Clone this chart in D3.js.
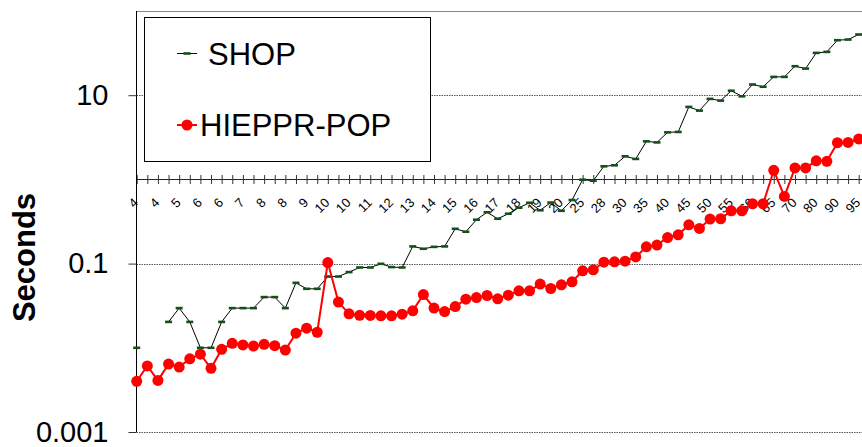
<!DOCTYPE html>
<html>
<head>
<meta charset="utf-8">
<script src="https://cdn.jsdelivr.net/npm/d3@7"></script>
<style>
  body { margin: 0; background: #fff; }
  svg { display: block; font-family: "Liberation Sans", Arial, sans-serif; }
</style>
</head>
<body>
<svg id="chart" width="862" height="447"></svg>
<script>
// Category labels (every second category carries a label on the axis)
const tickLabels = ["4","4","5","6","6","7","8","8","9","10","10","11","12","13","14","15","16","17","18","19","20","25","28","30","35","40","45","50","55","60","65","70","80","90","95"];

// Run times in seconds, one value per category (null = no result)
const shopSeconds = [0.0100, null, null, 0.0203, 0.0296, 0.0203, 0.0100, 0.0100, 0.0203, 0.0296,
  0.0296, 0.0296, 0.0400, 0.0400, 0.0296, 0.0591, 0.0502, 0.0502, 0.0702, 0.0702,
  0.0793, 0.0899, 0.0899, 0.0994, 0.0909, 0.0899, 0.160, 0.150, 0.158, 0.160,
  0.259, 0.239, 0.332, 0.407, 0.341, 0.391, 0.461, 0.528, 0.430, 0.531,
  0.424, 0.569, 0.992, 0.965, 1.43, 1.47, 1.88, 1.75, 2.83, 2.75,
  3.62, 3.66, 7.26, 6.56, 9.04, 8.63, 11.3, 9.70, 13.4, 12.6,
  16.5, 16.5, 22.1, 20.7, 31.8, 32.7, 45.0, 45.8, 52.6];

const hiepprSeconds = [0.0040, 0.0061, 0.0041, 0.0064, 0.0059, 0.0074, 0.0084, 0.0057, 0.0096, 0.0113,
  0.0108, 0.0105, 0.0110, 0.0106, 0.0094, 0.0149, 0.0171, 0.0153, 0.103, 0.0349,
  0.0253, 0.0243, 0.0242, 0.0240, 0.0240, 0.0251, 0.0275, 0.0429, 0.0296, 0.0269,
  0.0309, 0.0378, 0.0395, 0.0418, 0.0382, 0.0422, 0.0475, 0.0475, 0.0571, 0.0506,
  0.0560, 0.0608, 0.0821, 0.0844, 0.104, 0.105, 0.107, 0.120, 0.158, 0.166,
  0.204, 0.220, 0.289, 0.262, 0.338, 0.341, 0.424, 0.424, 0.514, 0.514,
  1.28, 0.628, 1.37, 1.37, 1.66, 1.64, 2.73, 2.75, 3.02];

const yTickValues = [0.001, 0.1, 10];
const yTickLabels = ["0.001", "0.1", "10"];
const seriesNames = ["SHOP", "HIEPPR-POP"];
const yTitle = "Seconds";

const svg = d3.select("#chart");
const W = 862, H = 447;
svg.append("rect").attr("width", W).attr("height", H).attr("fill", "#fff");

const plot = { left: 136.5, top: 11, right: 862, bottom: 432 };
const nCat = shopSeconds.length;

const x = d3.scalePoint()
  .domain(d3.range(nCat))
  .range([136.7, 858.7]);

const y = d3.scaleLog()
  .domain([0.001, 100])
  .range([plot.bottom, plot.top]);

// Horizontal gridlines
const gridG = svg.append("g");
gridG.selectAll("line.grid")
  .data(yTickValues)
  .join("line")
  .attr("x1", plot.left).attr("x2", plot.right)
  .attr("y1", d => Math.round(y(d)) + 0.5).attr("y2", d => Math.round(y(d)) + 0.5)
  .attr("stroke", "#555").attr("stroke-width", 1)
  .attr("stroke-dasharray", "1.5,1");
// Top boundary at 100
gridG.append("line")
  .attr("x1", plot.left).attr("x2", plot.right)
  .attr("y1", Math.round(y(100)) + 0.5).attr("y2", Math.round(y(100)) + 0.5)
  .attr("stroke", "#888").attr("stroke-width", 1);

// Category axis crossing at 1 second
const xAxis = d3.axisBottom(x)
  .tickValues(d3.range(nCat))
  .tickSize(0)
  .tickFormat(i => i % 2 === 0 ? tickLabels[i / 2] : "");
const xg = svg.append("g")
  .attr("transform", `translate(0,${Math.round(y(1)) + 0.5})`)
  .call(xAxis);
xg.select(".domain").attr("stroke", "#222").attr("d", `M${plot.left},0H${plot.right}`);
xg.selectAll(".tick line").attr("y1", -4.5).attr("y2", 4.5).attr("stroke", "#333");
xg.selectAll(".tick text")
  .attr("font-size", 13)
  .attr("fill", "#000")
  .attr("text-anchor", "end")
  .attr("dy", null)
  .attr("y", null)
  .attr("transform", "translate(2,24) rotate(-45)");

// Value axis
const yAxis = d3.axisLeft(y)
  .tickValues(yTickValues)
  .tickSize(8)
  .tickPadding(20)
  .tickFormat((d, i) => yTickLabels[i]);
const yg = svg.append("g")
  .attr("transform", `translate(${plot.left},0)`)
  .call(yAxis);
yg.select(".domain").attr("stroke", "#000").attr("d", `M0,${plot.top}V${plot.bottom}`);
yg.selectAll(".tick line").attr("stroke", "#333");
yg.selectAll(".tick text").attr("font-size", 29).attr("fill", "#000");

svg.append("text")
  .attr("transform", `translate(35,257.5) rotate(-90)`)
  .attr("text-anchor", "middle")
  .attr("font-size", 31)
  .attr("font-weight", "bold")
  .text(yTitle);

// SHOP series
const shopLine = d3.line()
  .defined(d => d != null)
  .x((d, i) => x(i))
  .y(d => y(d));
svg.append("path")
  .datum(shopSeconds)
  .attr("d", shopLine)
  .attr("fill", "none")
  .attr("stroke", "#000")
  .attr("stroke-width", 1);
svg.append("g").selectAll("rect")
  .data(shopSeconds.map((v, i) => ({ v, i })).filter(d => d.v != null))
  .join("rect")
  .attr("x", d => x(d.i) - 3.5)
  .attr("y", d => y(d.v) - 1.3)
  .attr("width", 7).attr("height", 2.6)
  .attr("fill", "#14501a");

// HIEPPR-POP series
const redLine = d3.line()
  .x((d, i) => x(i))
  .y(d => y(d));
svg.append("path")
  .datum(hiepprSeconds)
  .attr("d", redLine)
  .attr("fill", "none")
  .attr("stroke", "#ff0000")
  .attr("stroke-width", 2);
svg.append("g").selectAll("circle")
  .data(hiepprSeconds)
  .join("circle")
  .attr("cx", (d, i) => x(i))
  .attr("cy", d => y(d))
  .attr("r", 5.5)
  .attr("fill", "#ff0000");

// Legend
const lg = svg.append("g");
lg.append("rect")
  .attr("x", 144.5).attr("y", 17.5)
  .attr("width", 286).attr("height", 144)
  .attr("fill", "#fff").attr("stroke", "#000").attr("stroke-width", 1);
lg.append("line")
  .attr("x1", 177).attr("x2", 197).attr("y1", 53.5).attr("y2", 53.5)
  .attr("stroke", "#000").attr("stroke-width", 1);
lg.append("rect")
  .attr("x", 183.5).attr("y", 52.2).attr("width", 7).attr("height", 2.6)
  .attr("fill", "#14501a");
lg.append("text")
  .attr("x", 208).attr("y", 65)
  .attr("font-size", 31)
  .text(seriesNames[0]);
lg.append("line")
  .attr("x1", 177).attr("x2", 197).attr("y1", 125).attr("y2", 125)
  .attr("stroke", "#ff0000").attr("stroke-width", 2);
lg.append("circle")
  .attr("cx", 187).attr("cy", 125).attr("r", 5.5)
  .attr("fill", "#ff0000");
lg.append("text")
  .attr("x", 200).attr("y", 135.5)
  .attr("font-size", 31)
  .text(seriesNames[1]);
</script>
</body>
</html>
